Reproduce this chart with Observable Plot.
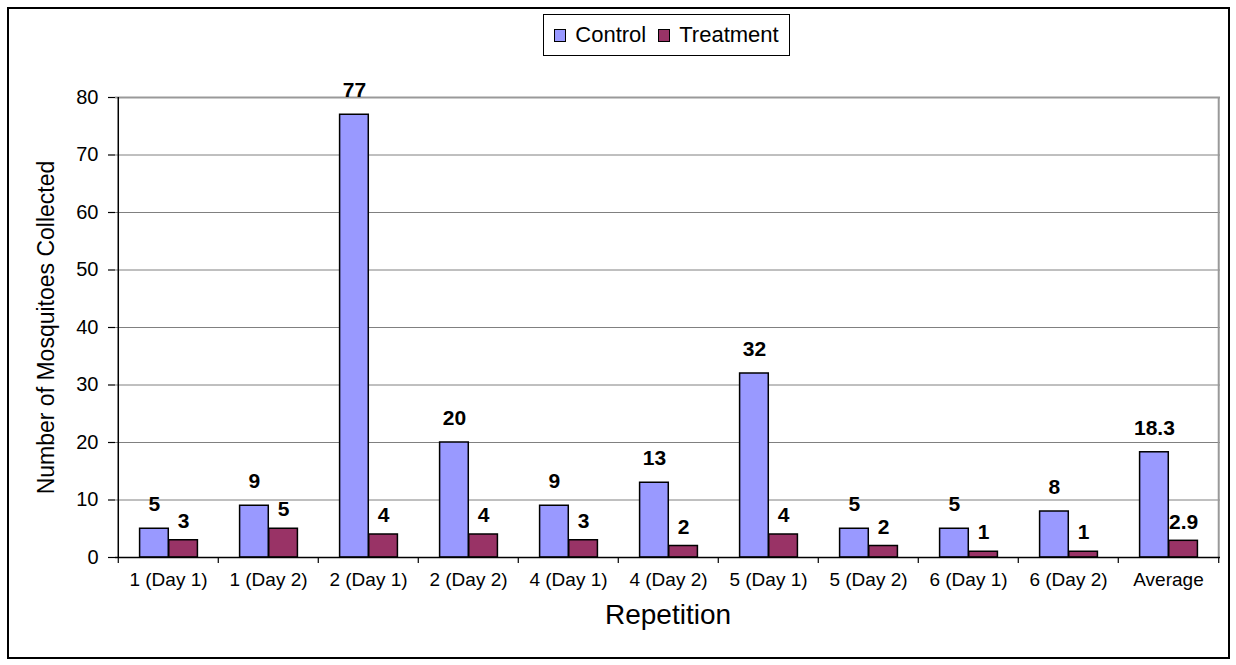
<!DOCTYPE html>
<html>
<head>
<meta charset="utf-8">
<script src="https://cdn.jsdelivr.net/npm/d3@7"></script>
<script src="https://cdn.jsdelivr.net/npm/@observablehq/plot@0.6"></script>
<style>
  body { margin: 0; background: #fff; font-family: "Liberation Sans", Arial, sans-serif; }
  #wrap { position: relative; width: 1236px; height: 665px; overflow: hidden; }
  #chart { position: absolute; left: 0; top: 0; }
  #border { position: absolute; left: 7px; top: 7px; width: 1219px; height: 648px; border: 2px solid #000; pointer-events: none; }
  #legend { position: absolute; left: 543px; top: 14px; width: 245px; height: 40px; border: 1px solid #000; background: #fff;
            display: flex; align-items: center; justify-content: center; font-size: 22px; color: #000; }
  #legend .sw { display: inline-block; width: 10px; height: 11px; border: 1px solid #000; margin-right: 9px; }
  #legend .item { display: inline-flex; align-items: center; margin: 0 6px; }
</style>
</head>
<body>
<div id="wrap">
  <div id="chart"></div>
  <div id="border"></div>
  <div id="legend"></div>
</div>
<script>
// ---- data ----
const categories = ["1 (Day 1)", "1 (Day 2)", "2 (Day 1)", "2 (Day 2)", "4 (Day 1)", "4 (Day 2)", "5 (Day 1)", "5 (Day 2)", "6 (Day 1)", "6 (Day 2)", "Average"];
const control   = [5, 9, 77, 20, 9, 13, 32, 5, 5, 8, 18.3];
const treatment = [3, 5, 4, 4, 3, 2, 4, 2, 1, 1, 2.9];
const seriesNames = ["Control", "Treatment"];
const seriesColors = ["#9999FF", "#993366"];
const yTicks = [0, 10, 20, 30, 40, 50, 60, 70, 80];
const xTitle = "Repetition";
const yTitle = "Number of Mosquitoes Collected";

const controlRows = categories.map((c, i) => ({cat: c, value: control[i]}));
const treatmentRows = categories.map((c, i) => ({cat: c, value: treatment[i]}));

// ---- layout ----
const W = 1236, H = 665;
const mL = 115, mR = 16, mT = 97, mB = 108;
const step = (W - mL - mR) / categories.length;
const start = 0.215, bw = 0.29;
const yPerPx = (yTicks[yTicks.length - 1] - yTicks[0]) / (H - mT - mB);

const chart = Plot.plot({
  width: W,
  height: H,
  marginLeft: mL, marginRight: mR, marginTop: mT, marginBottom: mB,
  style: {fontFamily: "Liberation Sans, Arial, sans-serif", fontSize: "20px", color: "#000", background: "transparent", overflow: "visible"},
  x: {type: "band", domain: categories, padding: 0},
  y: {domain: [yTicks[0], yTicks[yTicks.length - 1]]},
  marks: [
    Plot.ruleY(yTicks, {stroke: "#808080", strokeWidth: 1}),
    Plot.ruleY([yTicks[yTicks.length - 1]], {stroke: "#999", strokeWidth: 2}),
    Plot.ruleX([categories[categories.length - 1]], {x: d => d, dx: step / 2, y1: yTicks[0], y2: yTicks[yTicks.length - 1], stroke: "#999", strokeWidth: 2}),
    Plot.barY(controlRows, {x: "cat", y: "value", fill: seriesColors[0], stroke: "#000", strokeWidth: 1.5,
      insetLeft: start * step, insetRight: (1 - start - bw) * step}),
    Plot.barY(treatmentRows, {x: "cat", y: "value", fill: seriesColors[1], stroke: "#000", strokeWidth: 1.5,
      insetLeft: (start + bw) * step, insetRight: (1 - start - 2 * bw) * step}),
    Plot.ruleY([0], {stroke: "#000", strokeWidth: 1.5}),
    Plot.ruleX([categories[0]], {x: d => d, dx: -step / 2, y1: yTicks[0], y2: yTicks[yTicks.length - 1], stroke: "#000", strokeWidth: 1.5}),
    Plot.ruleX(categories, {x: d => d, dx: -step / 2, y1: 0, y2: -6 * yPerPx, stroke: "#000", strokeWidth: 1.2}),
    Plot.ruleX([categories[categories.length - 1]], {x: d => d, dx: step / 2, y1: 0, y2: -6 * yPerPx, stroke: "#000", strokeWidth: 1.2}),
    Plot.axisY({ticks: yTicks, tickSize: 7, tickPadding: 10, fontSize: 20, label: null, stroke: "#000", strokeOpacity: 1, strokeWidth: 1.2}),
    Plot.axisX({tickSize: 0, tickPadding: 15, fontSize: 19, label: null}),
    Plot.text(controlRows, {x: "cat", y: "value", text: d => String(d.value), dx: (start + bw / 2 - 0.5) * step, dy: -24,
      fontWeight: "bold", fontSize: 21, lineAnchor: "middle", fill: "#000"}),
    Plot.text(treatmentRows, {x: "cat", y: "value", text: d => String(d.value), dx: (start + 1.5 * bw - 0.5) * step, dy: -19,
      fontWeight: "bold", fontSize: 21, lineAnchor: "middle", fill: "#000"}),
    Plot.text([xTitle], {frameAnchor: "bottom", dy: 58, fontSize: 28, lineAnchor: "middle", textAnchor: "middle", fill: "#000"}),
    Plot.text([yTitle], {frameAnchor: "left", dx: -69, rotate: -90, fontSize: 23, lineAnchor: "middle", textAnchor: "middle", fill: "#000"})
  ]
});
document.getElementById("chart").appendChild(chart);

const legend = document.getElementById("legend");
seriesNames.forEach((name, i) => {
  const item = document.createElement("span");
  item.className = "item";
  const sw = document.createElement("span");
  sw.className = "sw";
  sw.style.background = seriesColors[i];
  item.appendChild(sw);
  item.appendChild(document.createTextNode(name));
  legend.appendChild(item);
});
</script>
</body>
</html>
